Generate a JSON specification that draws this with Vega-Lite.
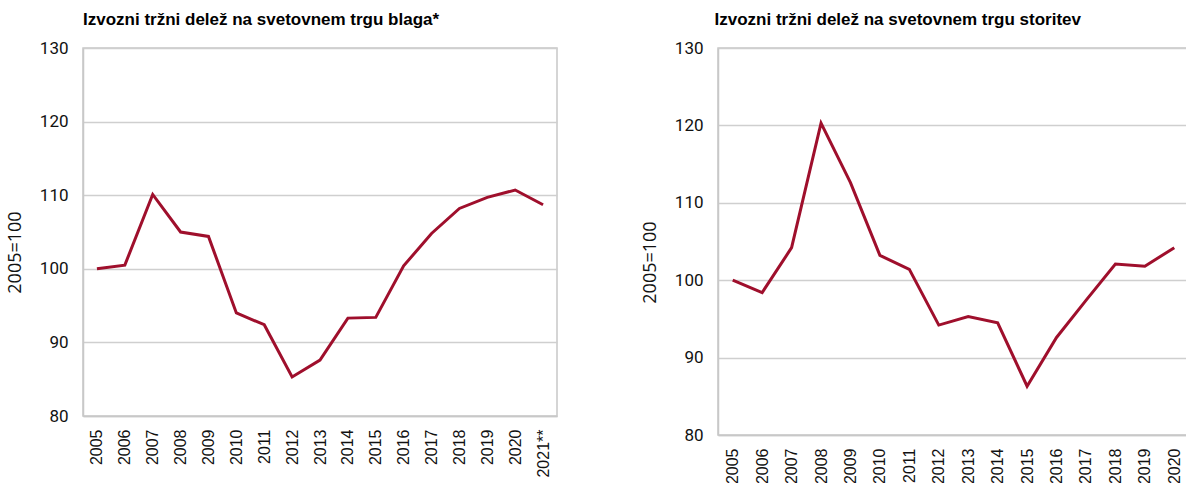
{
  "$schema": "https://vega.github.io/schema/vega-lite/v6.json",
  "background": "white",
  "padding": {"left": 5, "top": 10, "right": 6, "bottom": 0},
  "spacing": 82,
  "datasets": {
    "blago": [
      {"leto": "2005", "indeks": 100.0},
      {"leto": "2006", "indeks": 100.5},
      {"leto": "2007", "indeks": 110.1},
      {"leto": "2008", "indeks": 105.0},
      {"leto": "2009", "indeks": 104.4},
      {"leto": "2010", "indeks": 94.0},
      {"leto": "2011", "indeks": 92.4},
      {"leto": "2012", "indeks": 85.3},
      {"leto": "2013", "indeks": 87.6},
      {"leto": "2014", "indeks": 93.3},
      {"leto": "2015", "indeks": 93.4},
      {"leto": "2016", "indeks": 100.4},
      {"leto": "2017", "indeks": 104.8},
      {"leto": "2018", "indeks": 108.2},
      {"leto": "2019", "indeks": 109.7},
      {"leto": "2020", "indeks": 110.7},
      {"leto": "2021**", "indeks": 108.7}
    ],
    "storitve": [
      {"leto": "2005", "indeks": 100.0},
      {"leto": "2006", "indeks": 98.4},
      {"leto": "2007", "indeks": 104.2},
      {"leto": "2008", "indeks": 120.3},
      {"leto": "2009", "indeks": 112.6},
      {"leto": "2010", "indeks": 103.2},
      {"leto": "2011", "indeks": 101.4},
      {"leto": "2012", "indeks": 94.2},
      {"leto": "2013", "indeks": 95.3},
      {"leto": "2014", "indeks": 94.5},
      {"leto": "2015", "indeks": 86.3},
      {"leto": "2016", "indeks": 92.6},
      {"leto": "2017", "indeks": 97.4},
      {"leto": "2018", "indeks": 102.1},
      {"leto": "2019", "indeks": 101.8},
      {"leto": "2020", "indeks": 104.2}
    ]
  },
  "config": {
    "view": {"stroke": "#c8c8c8", "strokeWidth": 1.5},
    "axis": {
      "ticks": false,
      "grid": false,
      "domainColor": "#c8c8c8",
      "domainWidth": 1.5,
      "labelColor": "#111111",
      "titleColor": "#111111"
    },
    "title": {
      "anchor": "start",
      "frame": "group",
      "font": "Liberation Sans",
      "fontSize": 17,
      "fontWeight": "bold",
      "color": "#000000",
      "baseline": "alphabetic"
    }
  },
  "hconcat": [
    {
      "title": {"text": "Izvozni tržni delež na svetovnem trgu blaga*", "dx": 0, "offset": 10},
      "width": 474,
      "height": 368,
      "data": {"name": "blago"},
      "mark": {"type": "line", "color": "#9f0f2c", "strokeWidth": 3, "strokeJoin": "miter"},
      "encoding": {
        "x": {
          "field": "leto", "type": "ordinal", "sort": null,
          "scale": {"type": "point", "padding": 0.5},
          "axis": {"title": null, "labelAngle": -90, "labelFont": "Liberation Sans", "labelFontSize": 16, "labelPadding": 13, "labelAlign": "right", "labelBaseline": "middle"}
        },
        "y": {
          "field": "indeks", "type": "quantitative",
          "scale": {"domain": [80, 130], "nice": false, "zero": false},
          "axis": {"title": "2005=100", "values": [80, 90, 100, 110, 120, 130], "grid": true, "gridColor": "#cfcfcf", "gridWidth": 1.5, "labelFont": "Roboto", "labelFontSize": 17, "labelPadding": 15, "titleFont": "Open Sans", "titleFontSize": 18, "titleFontWeight": "normal", "titlePadding": 15, "titleY": 204}
        }
      }
    },
    {
      "title": {"text": "Izvozni tržni delež na svetovnem trgu storitev", "dx": -3.5, "offset": 10},
      "width": 471,
      "height": 387,
      "data": {"name": "storitve"},
      "mark": {"type": "line", "color": "#9f0f2c", "strokeWidth": 3, "strokeJoin": "miter"},
      "encoding": {
        "x": {
          "field": "leto", "type": "ordinal", "sort": null,
          "scale": {"type": "point", "padding": 0.5},
          "axis": {"title": null, "labelAngle": -90, "labelFont": "Liberation Sans", "labelFontSize": 16, "labelPadding": 13, "labelAlign": "right", "labelBaseline": "middle"}
        },
        "y": {
          "field": "indeks", "type": "quantitative",
          "scale": {"domain": [80, 130], "nice": false, "zero": false},
          "axis": {"title": "2005=100", "values": [80, 90, 100, 110, 120, 130], "grid": true, "gridColor": "#cfcfcf", "gridWidth": 1.5, "labelFont": "Roboto", "labelFontSize": 17, "labelPadding": 15, "titleFont": "Open Sans", "titleFontSize": 18, "titleFontWeight": "normal", "titlePadding": 15, "titleY": 214}
        }
      }
    }
  ]
}
